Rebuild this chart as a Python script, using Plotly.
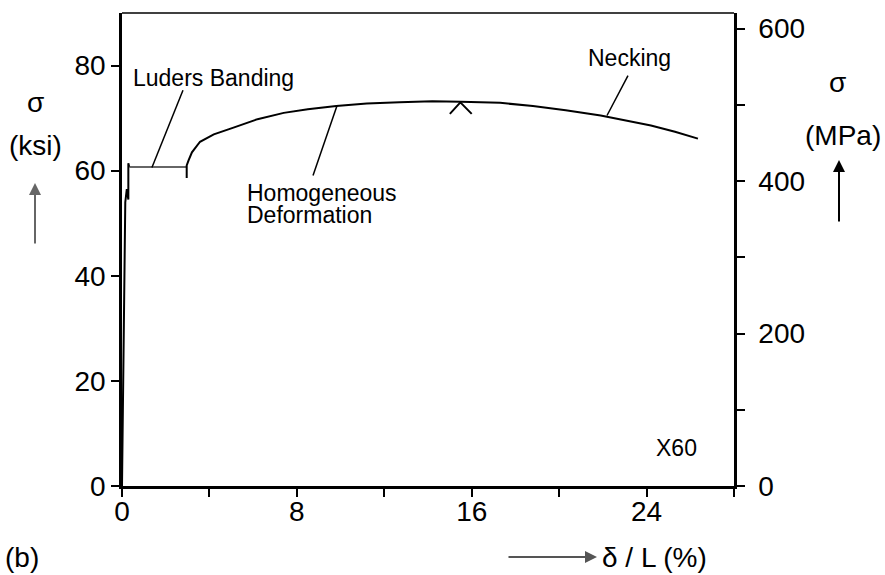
import plotly.graph_objects as go

# ---- data (strain %, stress ksi) ----
elastic_x = [0.0, 0.05, 0.10, 0.15, 0.22, 0.29, 0.29, 0.33]
elastic_y = [0.0, 20.0, 42.0, 54.0, 56.5, 54.5, 61.4, 60.7]

plateau_x = [0.33, 1.4, 2.96]
plateau_y = [60.7, 60.7, 60.7]

hard_x = [2.96, 2.96, 2.96, 3.05, 3.2, 3.57, 4.2, 5.1, 6.2, 7.4, 8.5, 9.8, 11.2, 12.7,
          14.2, 15.5, 17.3, 18.8, 20.3, 21.9, 23.0, 24.2, 25.3, 26.35]
hard_y = [60.7, 58.6, 61.0, 62.0, 63.5, 65.5, 66.9, 68.2, 69.8, 71.0, 71.7, 72.3, 72.8, 73.0,
          73.2, 73.1, 72.9, 72.3, 71.5, 70.5, 69.6, 68.6, 67.4, 66.1]

caret_x = [15.0, 15.48, 16.0]
caret_y = [70.8, 73.0, 70.8]

# leader lines: (x0, y0, x1, y1) in data units
leader_luders = [2.79, 75.3, 1.37, 60.6]
leader_homog = [9.84, 72.4, 8.74, 59.1]
leader_neck = [23.15, 78.1, 22.19, 70.5]

x_ticks = [0, 4, 8, 12, 16, 20, 24, 28]
x_ticktext = ["0", "", "8", "", "16", "", "24", ""]
ksi_ticks = [0, 20, 40, 60, 80]
mpa_ticks = [0, 100, 200, 300, 400, 500, 600]
mpa_ticktext = ["0", "", "200", "", "400", "", "600"]

KSI_TO_MPA = 6.895
FONT = "Liberation Sans, Arial, Helvetica, sans-serif"

W, H = 885, 575
L, R, T, B = 122, 885 - 734, 13, 575 - 486
PW, PH = W - L - R, H - T - B


def px(xp):
    return (xp - L) / PW


def py(yp):
    return (H - B - yp) / PH


fig = go.Figure()
line_style = dict(color="black", width=2)
fig.add_trace(go.Scatter(x=elastic_x, y=elastic_y, mode="lines", line=line_style, hoverinfo="skip"))
fig.add_trace(go.Scatter(x=plateau_x, y=plateau_y, mode="lines",
                         line=dict(color="#333333", width=1.6), hoverinfo="skip"))
fig.add_trace(go.Scatter(x=hard_x, y=hard_y, mode="lines", line=line_style, hoverinfo="skip"))
fig.add_trace(go.Scatter(x=caret_x, y=caret_y, mode="lines", line=line_style, hoverinfo="skip"))
# invisible trace to activate y2
fig.add_trace(go.Scatter(x=[0], y=[0], yaxis="y2", mode="markers",
                         marker=dict(opacity=0), hoverinfo="skip"))

for ld in (leader_luders, leader_homog, leader_neck):
    fig.add_shape(type="line", xref="x", yref="y", x0=ld[0], y0=ld[1], x1=ld[2], y1=ld[3],
                  line=dict(color="black", width=1.5))

# top frame line
fig.add_shape(type="line", xref="paper", yref="paper", x0=0, y0=1, x1=1, y1=1,
              line=dict(color="black", width=1.5))

ann_font = dict(family=FONT, size=23, color="black")
big_font = dict(family=FONT, size=28, color="black")
anns = [
    dict(x=0.42, y=77.7, xref="x", yref="y", text="Luders Banding", xanchor="left", font=ann_font),
    dict(x=5.63, y=55.7, xref="x", yref="y", text="Homogeneous", xanchor="left", font=ann_font),
    dict(x=5.63, y=51.5, xref="x", yref="y", text="Deformation", xanchor="left", font=ann_font),
    dict(x=23.24, y=81.5, xref="x", yref="y", text="Necking", xanchor="center", font=ann_font),
    dict(x=25.35, y=7.2, xref="x", yref="y", text="X60", xanchor="center",
         font=dict(family=FONT, size=23, color="black")),
    dict(x=px(35), y=py(102), xref="paper", yref="paper", text="σ", xanchor="center", font=big_font),
    dict(x=px(35), y=py(146), xref="paper", yref="paper", text="(ksi)", xanchor="center", font=big_font),
    dict(x=px(837), y=py(82), xref="paper", yref="paper", text="σ", xanchor="center", font=big_font),
    dict(x=px(843), y=py(136), xref="paper", yref="paper", text="(MPa)", xanchor="center", font=big_font),
    dict(x=px(22), y=py(557), xref="paper", yref="paper", text="(b)", xanchor="center", font=big_font),
    dict(x=px(600), y=py(557), xref="paper", yref="paper", text="δ / L (%)", xanchor="left",
         font=big_font),
]
for a in anns:
    a.setdefault("showarrow", False)
    a.setdefault("yanchor", "middle")
    fig.add_annotation(**a)

# arrows
arrows = [
    (35, 183, 0, 62, "#666666"),
    (839, 160, 0, 63, "black"),
    (597, 557, -90, 0, "#555555"),
]
for xh, yh, ax, ay, col in arrows:
    fig.add_annotation(x=px(xh), y=py(yh), xref="paper", yref="paper", text="",
                       showarrow=True, ax=ax, ay=ay, arrowhead=2, arrowsize=1.2,
                       arrowwidth=2, arrowcolor=col)

axis_common = dict(showgrid=False, zeroline=False, showline=True, linecolor="black",
                   linewidth=2.5, ticks="outside", ticklen=8, tickwidth=2, tickcolor="black",
                   tickfont=dict(family=FONT, size=28, color="black"))

fig.update_layout(
    width=W, height=H,
    margin=dict(l=L, r=R, t=T, b=B, pad=0),
    paper_bgcolor="white", plot_bgcolor="white",
    showlegend=False,
    xaxis=dict(range=[0, 28], tickvals=x_ticks, ticktext=x_ticktext, ticklabelstandoff=-9,
               **axis_common),
    yaxis=dict(range=[0, 90], tickvals=ksi_ticks, **axis_common),
    yaxis2=dict(range=[0, 90 * KSI_TO_MPA], tickvals=mpa_ticks, ticktext=mpa_ticktext,
                overlaying="y", side="right", anchor="x", ticklabelstandoff=8, **axis_common),
)

fig.write_html("out.html")
